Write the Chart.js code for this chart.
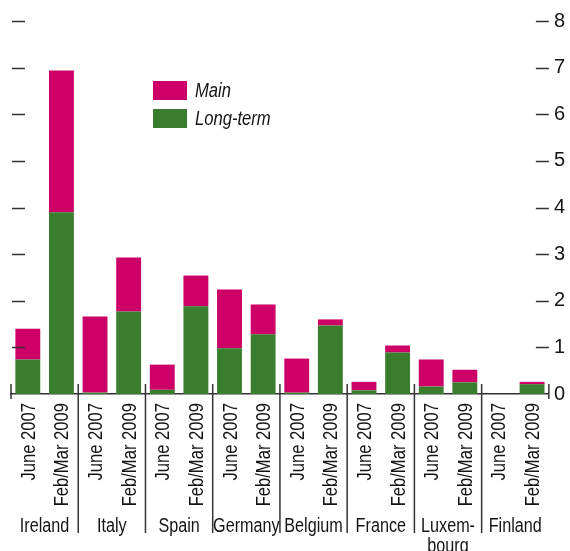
<!DOCTYPE html>
<html lang="en">
<head>
  <meta charset="UTF-8" />
  <title>Main and long-term, by country</title>
  <script src="https://cdn.jsdelivr.net/npm/chart.js"></script>
  <style>
    * { box-sizing: border-box; }
    html, body { margin: 0; padding: 0; background: #ffffff; }
    .chart-container { width: 570px; height: 551px; position: relative; }
  </style>
</head>
<body>
  <div class="chart-container">
    <canvas id="chart"></canvas>
  </div>
  <script>
    // data
    const countries = ['Ireland', 'Italy', 'Spain', 'Germany', 'Belgium', 'France', ['Luxem-', 'bourg'], 'Finland'];
    const periods = ['June 2007', 'Feb/Mar 2009'];
    const longTerm = [0.74, 3.90, 0.03, 1.77, 0.09, 1.88, 0.98, 1.28, 0.03, 1.47, 0.08, 0.89, 0.16, 0.25, 0, 0.21];
    const mainPart = [0.66, 3.04, 1.63, 1.16, 0.54, 0.66, 1.26, 0.64, 0.73, 0.13, 0.18, 0.15, 0.58, 0.27, 0, 0.05];
    const yMin = 0;
    const yMax = 8;

    const fontFamily = "'Liberation Sans', Arial, sans-serif";
    const squeeze = 0.83; // fake a condensed face, none is installed
    const textColor = '#141414';
    const lineColor = '#333333';
    const magenta = '#cc0066';
    const green = '#3a7d2e';

    const labels = [];
    countries.forEach(() => periods.forEach(p => labels.push(p)));

    const drawNarrow = (ctx, text, px, py, angle) => {
      ctx.save();
      ctx.translate(px, py);
      if (angle) ctx.rotate(angle);
      ctx.scale(squeeze, 1);
      ctx.fillText(text, 0, 0);
      ctx.restore();
    };

    // tick marks, category labels, country separators and names, legend
    const decorPlugin = {
      id: 'decor',
      afterDraw(chart) {
        const ctx = chart.ctx;
        const area = chart.chartArea;
        const x = chart.scales.x;
        const y = chart.scales.y;
        const half = (x.getPixelForValue(1) - x.getPixelForValue(0)) / 2;

        ctx.save();
        ctx.strokeStyle = lineColor;
        ctx.lineWidth = 1.5;

        // inward tick marks on both sides
        y.ticks.forEach(t => {
          if (t.value === 0) return;
          const py = Math.round(y.getPixelForValue(t.value)) + 0.5;
          ctx.beginPath();
          ctx.moveTo(area.left + 1, py);
          ctx.lineTo(area.left + 14, py);
          ctx.moveTo(area.right - 13, py);
          ctx.lineTo(area.right, py);
          ctx.stroke();
        });

        // group separators
        for (let i = 0; i <= countries.length; i++) {
          const px = i < countries.length
            ? x.getPixelForValue(i * 2) - half
            : x.getPixelForValue(labels.length - 1) + half;
          const bottom = (i === 0 || i === countries.length) ? area.bottom + 5 : area.bottom + 139;
          ctx.beginPath();
          ctx.moveTo(px, area.bottom - 10);
          ctx.lineTo(px, bottom);
          ctx.stroke();
        }

        ctx.fillStyle = textColor;
        ctx.font = '20px ' + fontFamily;

        // rotated period labels under each bar
        ctx.textAlign = 'right';
        ctx.textBaseline = 'middle';
        labels.forEach((lab, i) => {
          drawNarrow(ctx, lab, x.getPixelForValue(i) + 1.5, area.bottom + 9, -Math.PI / 2);
        });

        // country names
        ctx.font = '19.5px ' + fontFamily;
        ctx.textAlign = 'center';
        countries.forEach((c, i) => {
          const cx = (x.getPixelForValue(i * 2) + x.getPixelForValue(i * 2 + 1)) / 2;
          const lines = Array.isArray(c) ? c : [c];
          lines.forEach((line, j) => drawNarrow(ctx, line, cx, area.bottom + 133 + j * 20));
        });

        // legend, Main on top
        ctx.font = 'italic 20px ' + fontFamily;
        ctx.textAlign = 'left';
        const legendItems = chart.data.datasets.slice().reverse();
        legendItems.forEach((ds, i) => {
          const top = 81 + i * 28;
          ctx.fillStyle = ds.backgroundColor;
          ctx.fillRect(153, top, 34, 19);
          ctx.fillStyle = textColor;
          drawNarrow(ctx, ds.label, 195, top + 10);
        });
        ctx.restore();
      }
    };

    new Chart(document.getElementById('chart'), {
      type: 'bar',
      data: {
        labels: labels,
        datasets: [
          { label: 'Long-term', data: longTerm, backgroundColor: green, borderWidth: 0 },
          { label: 'Main', data: mainPart, backgroundColor: magenta, borderWidth: 0 }
        ]
      },
      options: {
        responsive: true,
        maintainAspectRatio: false,
        animation: false,
        barPercentage: 0.74,
        categoryPercentage: 1,
        layout: { padding: { left: 11, right: 0, top: 21, bottom: 157 } },
        plugins: {
          legend: { display: false },
          tooltip: { enabled: false }
        },
        scales: {
          x: {
            stacked: true,
            grid: { display: false, drawTicks: false },
            border: { display: true, color: lineColor, width: 1.5 },
            ticks: { display: false }
          },
          y: {
            stacked: true,
            position: 'right',
            min: yMin,
            max: yMax,
            grid: { display: false, drawTicks: false },
            border: { display: false },
            ticks: {
              stepSize: 1,
              padding: 5,
              color: textColor,
              font: { family: fontFamily, size: 20 }
            }
          }
        }
      },
      plugins: [decorPlugin]
    });
  </script>
</body>
</html>
